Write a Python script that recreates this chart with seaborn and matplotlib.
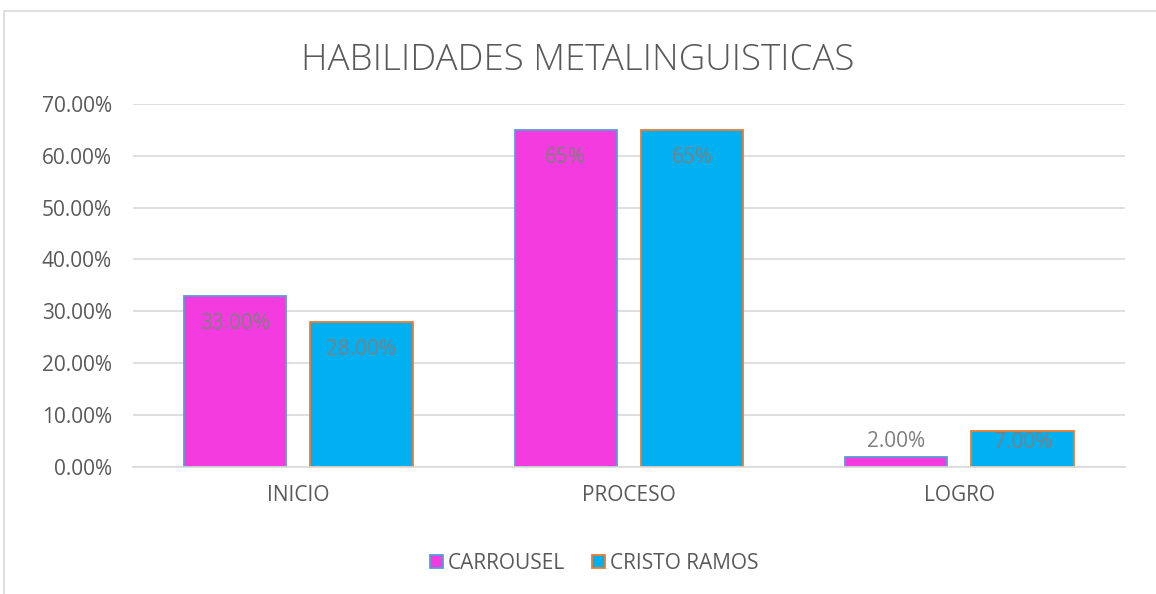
import pandas as pd
import matplotlib
matplotlib.use("Agg")
import matplotlib.pyplot as plt
import matplotlib.patches as mpatches
import seaborn as sns

# Data
niveles = ["INICIO", "PROCESO", "LOGRO"]
carrousel = [0.33, 0.65, 0.02]
cristo_ramos = [0.28, 0.65, 0.07]
etiquetas_carrousel = ["33.00%", "65%", "2.00%"]
etiquetas_cristo = ["28.00%", "65%", "7.00%"]
escuelas = ["CARROUSEL", "CRISTO RAMOS"]

fill_colors = ["#F43BE0", "#00B0F0"]
edge_colors = ["#5B9BD5", "#ED7D31"]
gray = "#7F7F7F"

df = pd.DataFrame({
    "nivel": niveles * 2,
    "valor": carrousel + cristo_ramos,
    "escuela": [escuelas[0]] * 3 + [escuelas[1]] * 3,
})

sns.set_style("white")
plt.rcParams["font.family"] = ["Open Sans", "DejaVu Sans"]

fig = plt.figure(figsize=(11.56, 5.94), dpi=100)
ax = fig.add_axes([0.115, 0.214, 0.858, 0.611])

sns.barplot(data=df, x="nivel", y="valor", hue="escuela", order=niveles,
            hue_order=escuelas, palette=fill_colors, width=0.764, gap=0.19,
            saturation=1, legend=False, ax=ax)

# edge colours per series
for cont, ec in zip(ax.containers, edge_colors):
    for bar in cont:
        bar.set_edgecolor(ec)
        bar.set_linewidth(1.3)

ax.set_xlim(-0.5, 2.5)
ax.set_ylim(0, 0.70)
ax.set_yticks([i / 10 for i in range(8)])
ax.set_yticklabels([f"{i * 10:.2f}%" for i in range(8)])
ax.yaxis.grid(True, color="#D9D9D9", linewidth=1.2)
ax.set_axisbelow(True)
for s in ["top", "right", "left"]:
    ax.spines[s].set_visible(False)
ax.spines["bottom"].set_color("#D9D9D9")
ax.spines["bottom"].set_linewidth(1.2)
ax.tick_params(axis="both", length=0, labelsize=15, labelcolor="#595959")
ax.tick_params(axis="y", pad=15)
ax.tick_params(axis="x", pad=13)
ax.set_xlabel("")
ax.set_ylabel("")

# data labels
for cont, labs in zip(ax.containers, [etiquetas_carrousel, etiquetas_cristo]):
    for bar, lab in zip(cont, labs):
        h = bar.get_height()
        x = bar.get_x() + bar.get_width() / 2
        if h >= 0.15:
            dy = -28
        elif h >= 0.05:
            dy = -12
        else:
            dy = 15
        ax.annotate(lab, (x, h), xytext=(0, dy), textcoords="offset pixels",
                    ha="center", va="center", fontsize=15, color=gray)

fig.suptitle("HABILIDADES METALINGUISTICAS", y=0.898, va="center", fontsize=26.5,
             color="#595959", fontweight="light")

handles = [mpatches.Patch(facecolor=fc, edgecolor=ec, linewidth=1.3, label=n)
           for fc, ec, n in zip(fill_colors, edge_colors, escuelas)]
fig.legend(handles=handles, loc="center", bbox_to_anchor=(0.514, 0.052), ncol=2,
           frameon=False, fontsize=15, labelcolor="#595959", handlelength=0.6,
           handleheight=0.6, handletextpad=0.25, columnspacing=1.3)

# outer chart frame
fig.patches.append(mpatches.Rectangle((4 / 1156, -0.05), 1.1, 1.05 - 11 / 594,
                                      transform=fig.transFigure, fill=False,
                                      edgecolor="#D9D9D9", linewidth=1.2))

fig.savefig("out.png", dpi=100)
